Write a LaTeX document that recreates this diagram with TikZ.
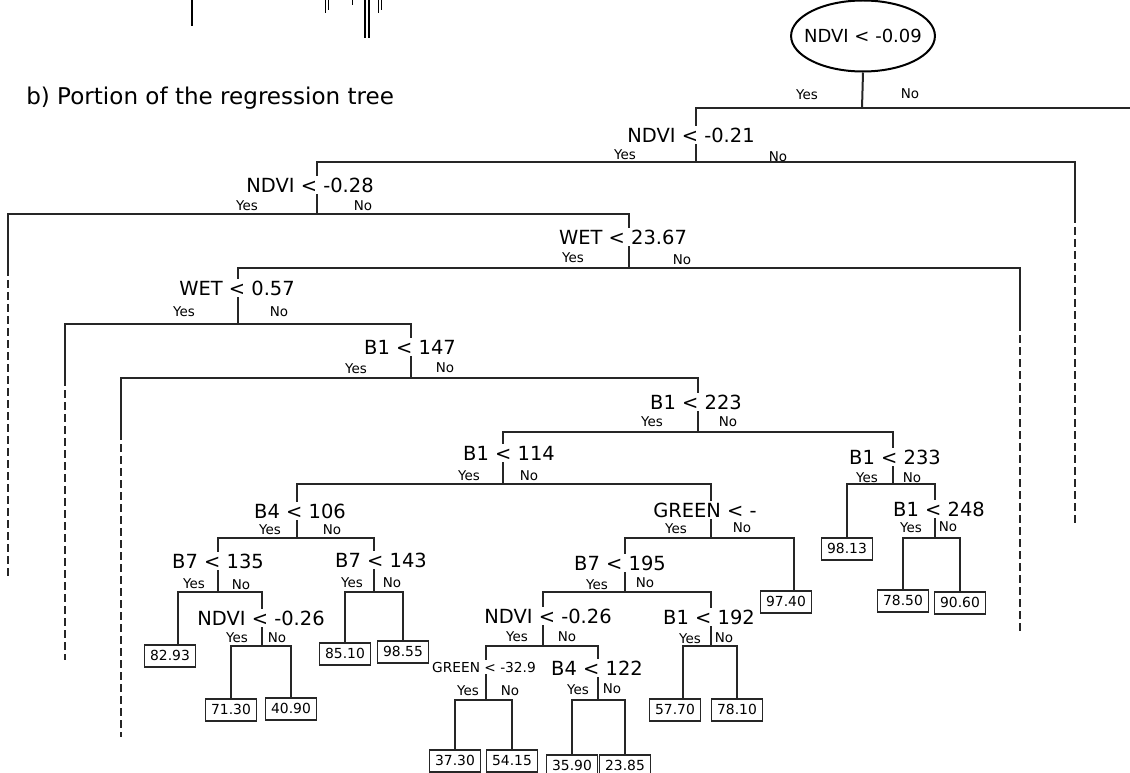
\documentclass[tikz,border=0pt]{standalone}
\usepackage{fontspec}
\setmainfont{DejaVu Sans}
\usetikzlibrary{shapes.geometric}

\newlength{\du}
\setlength{\du}{0.75pt}

\tikzset{
  branch/.style={draw=black!85, line width=2\du},
  cutline/.style={draw=black!85, line width=2\du, dash pattern=on 8\du off 4\du},
  splitlab/.style={fill=white, inner sep=2\du, font=\fontsize{14.6}{16}\selectfont},
  smalllab/.style={fill=white, inner sep=2\du, font=\fontsize{10.3}{12}\selectfont},
  yn/.style={inner sep=0pt, font=\fontsize{10.1}{12}\selectfont},
  leaf/.style={draw=black!85, line width=1.5\du, fill=white, anchor=north,
    minimum width=51\du, minimum height=22\du, inner sep=0pt,
    font=\fontsize{10.4}{12}\selectfont},
  rootsplit/.style={draw=black, line width=2\du, ellipse, fill=white,
    minimum width=143\du, minimum height=71\du, inner xsep=-8\du, inner ysep=0pt,
    font=\fontsize{13.5}{15}\selectfont}
}

\begin{document}
\begin{tikzpicture}
  \pgftransformxscale{1.000000}
  \pgftransformyscale{-1.000000}
  \useasboundingbox (0\du,0\du) rectangle (1130\du,773\du);

  % cut-off bits of the figure above
  \draw[line width=1.5\du] (192\du,0\du) -- (192\du,26\du);
  \draw[line width=1\du] (325\du,0\du) -- (325\du,13\du);
  \draw[line width=1\du] (328\du,0\du) -- (328\du,10\du);
  \draw[line width=1\du] (352\du,0\du) -- (352\du,5\du);
  \draw[line width=1.5\du] (365\du,0\du) -- (365\du,38\du);
  \draw[line width=1.5\du] (369\du,0\du) -- (369\du,38\du);
  \draw[line width=1\du] (378\du,0\du) -- (378\du,13\du);
  \draw[line width=1\du] (381\du,0\du) -- (381\du,10\du);

  \node[anchor=west, inner sep=0pt, font=\fontsize{17.3}{20}\selectfont] (title) at (26\du,98\du) {b) Portion of the regression tree};

  % junctions of the splits
  \coordinate (j0) at (862\du,108\du);
  \coordinate (j1) at (696\du,162\du);
  \coordinate (j2) at (317\du,214\du);
  \coordinate (j3) at (629\du,268\du);
  \coordinate (j4) at (238\du,324\du);
  \coordinate (j5) at (411\du,378\du);
  \coordinate (j6) at (698\du,432\du);
  \coordinate (j7) at (503\du,484\du);
  \coordinate (j8) at (893\du,484\du);
  \coordinate (j9) at (297\du,538\du);
  \coordinate (j10) at (711\du,538\du);
  \coordinate (j11) at (218\du,592\du);
  \coordinate (j12) at (374\du,592\du);
  \coordinate (j13) at (262\du,646\du);
  \coordinate (j14) at (625\du,592\du);
  \coordinate (j15) at (543\du,646\du);
  \coordinate (j16) at (711\du,646\du);
  \coordinate (j17) at (486\du,700\du);
  \coordinate (j18) at (598\du,700\du);
  \coordinate (j19) at (935\du,538\du);

  % branches that leave the portion
  \coordinate (e0) at (1130\du,108\du);
  \coordinate (c1) at (1075\du,215\du);
  \coordinate (c1e) at (1075\du,524\du);
  \coordinate (c2) at (8\du,268\du);
  \coordinate (c2e) at (8\du,578\du);
  \coordinate (c3) at (1020\du,323\du);
  \coordinate (c3e) at (1020\du,632\du);
  \coordinate (c4) at (65\du,378\du);
  \coordinate (c4e) at (65\du,660\du);
  \coordinate (c5) at (121\du,432\du);
  \coordinate (c5e) at (121\du,737\du);

  % leaves
  \node[leaf] (l8293) at (170\du,644\du) {82.93};
  \node[leaf] (l7130) at (231\du,698\du) {71.30};
  \node[leaf] (l4090) at (291\du,697\du) {40.90};
  \node[leaf] (l8510) at (345\du,642\du) {85.10};
  \node[leaf] (l9855) at (403\du,640\du) {98.55};
  \node[leaf] (l9740) at (786\du,590\du) {97.40};
  \node[leaf] (l3730) at (455\du,749\du) {37.30};
  \node[leaf] (l5415) at (512\du,749\du) {54.15};
  \node[leaf] (l3590) at (572\du,754\du) {35.90};
  \node[leaf] (l2385) at (625\du,754\du) {23.85};
  \node[leaf] (l5770) at (675\du,698\du) {57.70};
  \node[leaf] (l7810) at (737\du,698\du) {78.10};
  \node[leaf] (l9813) at (847\du,537\du) {98.13};
  \node[leaf] (l7850) at (903\du,589\du) {78.50};
  \node[leaf] (l9060) at (960\du,591\du) {90.60};

  % connectors
  \draw[branch] (j0) -| (j1);
  \draw[branch] (j0) -- (e0);
  \draw[branch] (j1) -| (j2);
  \draw[branch] (j1) -| (c1);
  \draw[cutline] (c1) -- (c1e);
  \draw[branch] (j2) -| (c2);
  \draw[cutline] (c2) -- (c2e);
  \draw[branch] (j2) -| (j3);
  \draw[branch] (j3) -| (j4);
  \draw[branch] (j3) -| (c3);
  \draw[cutline] (c3) -- (c3e);
  \draw[branch] (j4) -| (c4);
  \draw[cutline] (c4) -- (c4e);
  \draw[branch] (j4) -| (j5);
  \draw[branch] (j5) -| (c5);
  \draw[cutline] (c5) -- (c5e);
  \draw[branch] (j5) -| (j6);
  \draw[branch] (j6) -| (j7);
  \draw[branch] (j6) -| (j8);
  \draw[branch] (j7) -| (j9);
  \draw[branch] (j7) -| (j10);
  \draw[branch] (j9) -| (j11);
  \draw[branch] (j9) -| (j12);
  \draw[branch] (j11) -| ([xshift=6pt]l8293.north);
  \draw[branch] (j11) -| (j13);
  \draw[branch] (j13) -| (l7130.north);
  \draw[branch] (j13) -| (l4090.north);
  \draw[branch] (j12) -| (l8510.north);
  \draw[branch] (j12) -| (l9855.north);
  \draw[branch] (j10) -| (j14);
  \draw[branch] (j10) -| ([xshift=6pt]l9740.north);
  \draw[branch] (j14) -| (j15);
  \draw[branch] (j14) -| (j16);
  \draw[branch] (j15) -| (j17);
  \draw[branch] (j15) -| (j18);
  \draw[branch] (j17) -| (l3730.north);
  \draw[branch] (j17) -| (l5415.north);
  \draw[branch] (j18) -| (l3590.north);
  \draw[branch] (j18) -| (l2385.north);
  \draw[branch] (j16) -| ([xshift=6pt]l5770.north);
  \draw[branch] (j16) -| (l7810.north);
  \draw[branch] (j8) -| (l9813.north);
  \draw[branch] (j8) -| (j19);
  \draw[branch] (j19) -| (l7850.north);
  \draw[branch] (j19) -| (l9060.north);

  % split labels
  \node[rootsplit] (s0) at (863\du,36\du) {NDVI < -0.09};
  \draw[branch] (s0.south) -- (j0);
  \node[splitlab] (s1) at (691\du,135\du) {NDVI < -0.21};
  \node[splitlab] (s2) at (310\du,185\du) {NDVI < -0.28};
  \node[splitlab] (s3) at (623\du,237\du) {WET < 23.67};
  \node[splitlab] (s4) at (237\du,288\du) {WET < 0.57};
  \node[splitlab] (s5) at (410\du,347\du) {B1 < 147};
  \node[splitlab] (s6) at (696\du,402\du) {B1 < 223};
  \node[splitlab] (s7) at (509\du,453\du) {B1 < 114};
  \node[splitlab] (s8) at (895\du,457\du) {B1 < 233};
  \node[splitlab] (s9) at (300\du,511\du) {B4 < 106};
  \node[splitlab] (s10) at (705\du,510\du) {GREEN < -};
  \node[splitlab] (s11) at (218\du,561\du) {B7 < 135};
  \node[splitlab] (s12) at (381\du,560\du) {B7 < 143};
  \node[splitlab] (s13) at (261\du,618\du) {NDVI < -0.26};
  \node[splitlab] (s14) at (620\du,563\du) {B7 < 195};
  \node[splitlab] (s15) at (548\du,616\du) {NDVI < -0.26};
  \node[splitlab] (s16) at (709\du,617\du) {B1 < 192};
  \node[smalllab] (s17) at (484\du,667\du) {GREEN < -32.9};
  \node[splitlab] (s18) at (597\du,668\du) {B4 < 122};
  \node[splitlab] (s19) at (939\du,509\du) {B1 < 248};

  % Yes / No
  \node[yn] (y0) at (807\du,95\du) {Yes};   \node[yn] (n0) at (910\du,94\du) {No};
  \node[yn] (y1) at (625\du,155\du) {Yes};  \node[yn] (n1) at (778\du,157\du) {No};
  \node[yn] (y2) at (247\du,206\du) {Yes};  \node[yn] (n2) at (363\du,206\du) {No};
  \node[yn] (y3) at (573\du,258\du) {Yes};  \node[yn] (n3) at (682\du,260\du) {No};
  \node[yn] (y4) at (184\du,312\du) {Yes};  \node[yn] (n4) at (279\du,312\du) {No};
  \node[yn] (y5) at (356\du,369\du) {Yes};  \node[yn] (n5) at (445\du,368\du) {No};
  \node[yn] (y6) at (652\du,422\du) {Yes};  \node[yn] (n6) at (728\du,422\du) {No};
  \node[yn] (y7) at (469\du,476\du) {Yes};  \node[yn] (n7) at (529\du,476\du) {No};
  \node[yn] (y8) at (867\du,478\du) {Yes};  \node[yn] (n8) at (912\du,478\du) {No};
  \node[yn] (y9) at (270\du,530\du) {Yes};  \node[yn] (n9) at (332\du,530\du) {No};
  \node[yn] (y10) at (676\du,529\du) {Yes}; \node[yn] (n10) at (742\du,528\du) {No};
  \node[yn] (y11) at (194\du,584\du) {Yes}; \node[yn] (n11) at (241\du,585\du) {No};
  \node[yn] (y12) at (352\du,583\du) {Yes}; \node[yn] (n12) at (392\du,583\du) {No};
  \node[yn] (y13) at (237\du,638\du) {Yes}; \node[yn] (n13) at (277\du,638\du) {No};
  \node[yn] (y14) at (597\du,585\du) {Yes}; \node[yn] (n14) at (645\du,583\du) {No};
  \node[yn] (y15) at (517\du,637\du) {Yes}; \node[yn] (n15) at (567\du,637\du) {No};
  \node[yn] (y16) at (690\du,639\du) {Yes}; \node[yn] (n16) at (724\du,638\du) {No};
  \node[yn] (y17) at (468\du,691\du) {Yes}; \node[yn] (n17) at (510\du,691\du) {No};
  \node[yn] (y18) at (578\du,690\du) {Yes}; \node[yn] (n18) at (612\du,689\du) {No};
  \node[yn] (y19) at (911\du,528\du) {Yes}; \node[yn] (n19) at (948\du,527\du) {No};
\end{tikzpicture}
\end{document}
